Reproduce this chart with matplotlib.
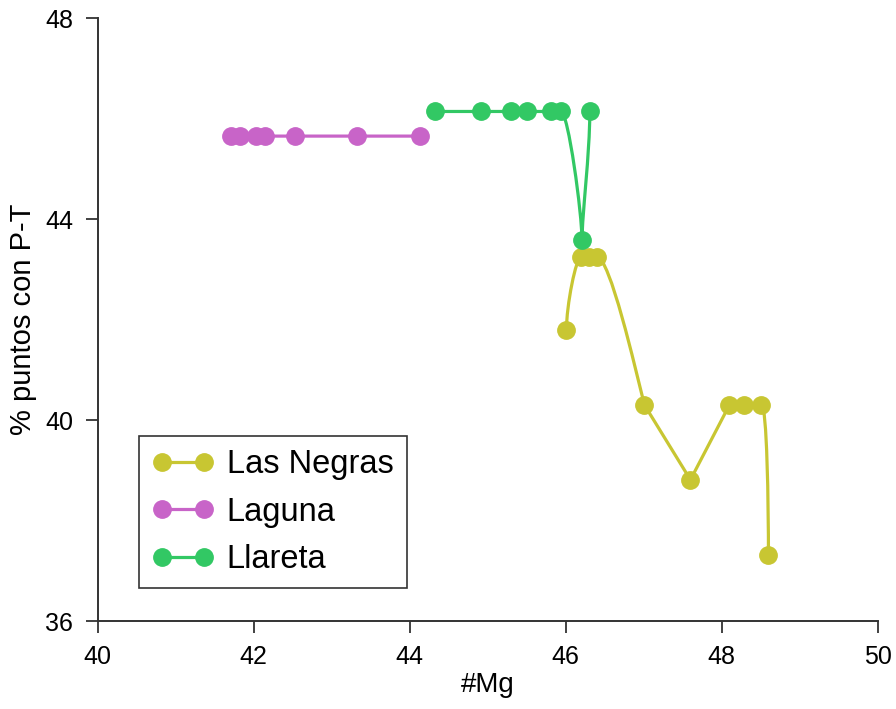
import matplotlib.pyplot as plt
import numpy as np
from matplotlib.path import Path
from matplotlib.patches import PathPatch
from matplotlib.lines import Line2D

plt.rcParams['font.family'] = ['Liberation Sans', 'DejaVu Sans']

# datos por zona
negras_mg = [46.01, 46.20, 46.30, 46.40, 47.01, 47.60, 48.10, 48.29, 48.51, 48.60]
negras_pt = [41.79, 43.25, 43.25, 43.25, 40.30, 38.81, 40.30, 40.30, 40.30, 37.31]

laguna_mg = [41.71, 41.82, 42.03, 42.14, 42.53, 43.32, 44.13]
laguna_pt = [45.65, 45.65, 45.65, 45.65, 45.65, 45.65, 45.65]

llareta_mg = [44.32, 44.92, 45.30, 45.50, 45.81, 45.94, 46.21, 46.31]
llareta_pt = [46.14, 46.14, 46.14, 46.14, 46.14, 46.14, 43.58, 46.14]

series = [("Las Negras", negras_mg, negras_pt, "#c8c632"),
          ("Laguna", laguna_mg, laguna_pt, "#c864c8"),
          ("Llareta", llareta_mg, llareta_pt, "#32c864")]

fig = plt.figure(figsize=(8.96, 7.09), dpi=100)
ax = fig.add_axes([0.109, 0.1241, 0.8705, 0.8505])
ax.set_xlim(40, 50)
ax.set_ylim(36, 48)


def smooth_path(x, y, s=0.7, k=0.6, steep=3.0):
    # bezier through the points: steep jumps get rounded elbows,
    # everything else is joined with straight pieces
    p = np.column_stack([x, y]).astype(float)
    d = ax.transData.transform(p)
    n = len(p)

    def is_steep(i):
        dx, dy = np.abs(d[i + 1] - d[i])
        return dy > steep * max(dx, 1e-9)

    t_in = np.zeros((n, 2))
    t_out = np.zeros((n, 2))
    for i in range(n):
        for side in ("in", "out"):
            j = i - 1 if side == "in" else i + 1
            if j < 0 or j >= n:
                continue
            seg = p[i] - p[j] if side == "in" else p[j] - p[i]
            t = seg
            if is_steep(min(i, j)):
                if i == 0 or i == n - 1:
                    t = np.array([0, seg[1]])
                else:
                    a = p[i, 1] - p[i - 1, 1]
                    b = p[i + 1, 1] - p[i, 1]
                    if a == 0 or b == 0:
                        t = np.array([(p[i + 1, 0] - p[i - 1, 0]) * s, 0])
                    elif a * b < 0:
                        t = np.array([0, seg[1] * k])
                    else:
                        t = (p[i + 1] - p[i - 1]) / 2 * np.array([0.6, 1])
            if side == "in":
                t_in[i] = t
            else:
                t_out[i] = t
    verts = [p[0]]
    codes = [Path.MOVETO]
    for i in range(n - 1):
        verts += [p[i] + t_out[i] / 3, p[i + 1] - t_in[i + 1] / 3, p[i + 1]]
        codes += [Path.CURVE4] * 3
    return Path(verts, codes)


handles = []
for name, x, y, col in series:
    ax.add_patch(PathPatch(smooth_path(x, y), facecolor="none", edgecolor=col,
                           lw=2.3, capstyle="round", joinstyle="round"))
    ax.plot(x, y, linestyle="none", marker="o", markersize=12.5, color=col)
    handles.append(Line2D([], [], color=col, lw=2.3, marker="o", markersize=12.5))

for s in ["top", "right"]:
    ax.spines[s].set_visible(False)
for s in ["left", "bottom"]:
    ax.spines[s].set_linewidth(1.4)
    ax.spines[s].set_color("#333333")

ax.set_xticks([40, 42, 44, 46, 48, 50])
ax.set_yticks([36, 40, 44, 48])
ax.tick_params(direction="out", length=8.6, width=1.3, color="#333333",
               labelsize=18, pad=9)
ax.set_xlabel("#Mg", fontsize=20, labelpad=2)
ax.set_ylabel("% puntos con P-T", fontsize=21, labelpad=6)

leg = ax.legend(handles, ["Las Negras", "Laguna", "Llareta"], numpoints=2,
                loc="lower left", bbox_to_anchor=(0.0526, 0.0547),
                borderaxespad=0, fontsize=23.5, frameon=True, fancybox=False,
                edgecolor="black", handletextpad=0.4, labelspacing=0.5,
                borderpad=0.4, handlelength=1.9)
leg.get_frame().set_linewidth(1.2)

plt.savefig("out.png", dpi=100)
